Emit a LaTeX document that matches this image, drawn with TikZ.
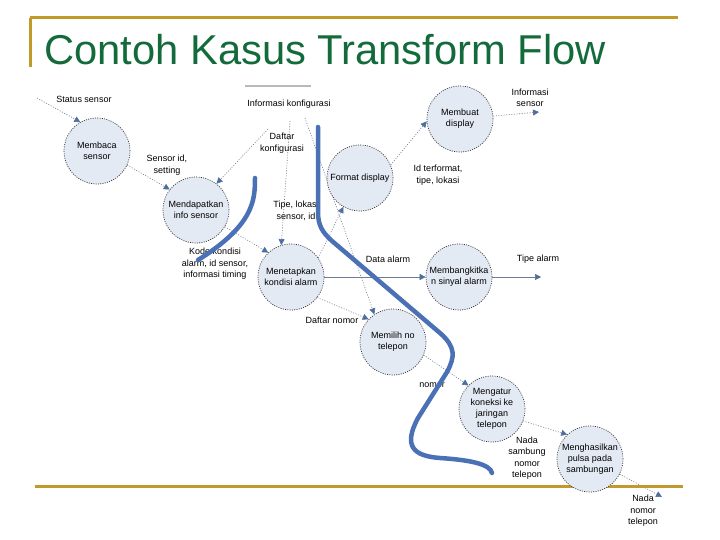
\documentclass[tikz,border=0pt]{standalone}
\usepackage{fontspec}
\setmainfont{Liberation Sans}
\usetikzlibrary{arrows.meta,backgrounds}
\definecolor{gold}{HTML}{C19A2C}
\definecolor{titlegreen}{HTML}{136B3C}
\definecolor{procfill}{HTML}{E4EAF4}
\definecolor{procborder}{HTML}{333333}
\definecolor{flowgray}{HTML}{6F7C92}
\definecolor{tipblue}{HTML}{4F6E9F}
\definecolor{curveblue}{HTML}{4A70B5}
\tikzset{
  proc/.style={circle, draw=procborder, fill=procfill, line width=0.7pt,
    dash pattern=on 1pt off 1.3pt, minimum size=66pt, inner sep=0pt,
    align=center, font=\fontsize{9}{11}\selectfont},
  lbl/.style={align=center, inner sep=0pt, font=\fontsize{9}{11.5}\selectfont},
  flow/.style={draw=flowgray, line width=0.6pt, dash pattern=on 1pt off 1.6pt,
    -{Triangle[length=6pt,width=6pt,color=tipblue]}},
  solidflow/.style={draw=flowgray, line width=0.6pt,
    -{Triangle[length=6pt,width=6pt,color=tipblue]}},
  goldline/.style={draw=gold, line width=3pt},
  bigcurve/.style={draw=curveblue, line width=4.5pt, line cap=round}
}
\begin{document}
\begin{tikzpicture}[x=1pt,y=-1pt]
\useasboundingbox (0,0) rectangle (720,540);
% frame lines
\draw[goldline] (30,18) -- (678,18);
\draw[goldline] (30,18) -- (30,67);
\draw[goldline] (35,486) -- (683,486);
% title
\node[anchor=base west, inner sep=0pt, text=titlegreen,
  font=\fontsize{41.7}{48}\selectfont] (title) at (44,65) {Contoh Kasus Transform Flow};
% processes
\node[proc] (mb) at (97,151) {Membaca\\sensor};
\node[proc] (md) at (196,210) {Mendapatkan\\info sensor};
\node[proc] (fd) at (360,178) {Format display};
\node[proc] (mu) at (460,119) {Membuat\\display};
\node[proc] (mk) at (291,277) {Menetapkan\\kondisi alarm};
\node[proc] (ms) at (459,277) {Membangkitka\\n sinyal alarm};
\node[proc] (mn) at (393,342) {Memilih no\\telepon};
\node[proc] (mj) at (492,409) {Mengatur\\koneksi ke\\jaringan\\telepon};
\node[proc] (mp) at (590,459) {Menghasilkan\\pulsa pada\\sambungan};
% labels
\node[lbl] (l1) at (84,99) {Status sensor};
\node[lbl] (l2) at (289,104) {Informasi konfigurasi};
\node[lbl] (l3) at (282,143) {Daftar\\konfigurasi};
\node[lbl] (l4) at (167,165) {Sensor id,\\setting};
\node[lbl] (l5) at (296,211) {Tipe, lokasi\\sensor, id};
\node[lbl] (l6) at (438,175) {Id terformat,\\tipe, lokasi};
\node[lbl] (l7) at (530,98) {Informasi\\sensor};
\node[lbl] (l8) at (215,264) {Kode kondisi\\alarm, id sensor,\\informasi timing};
\node[lbl] (l9) at (388,259) {Data alarm};
\node[lbl] (l10) at (538,259) {Tipe alarm};
\node[lbl] (l11) at (332,320) {Daftar nomor};
\node[lbl] (l12) at (432,385) {nomor};
\node[lbl] (l13) at (527,458) {Nada\\sambung\\nomor\\telepon};
\node[lbl] (l14) at (643,511) {Nada\\nomor\\telepon};
% free ends
\coordinate (s0) at (37,98);
\coordinate (c3) at (268,129);
\coordinate (c4) at (290,121);
\coordinate (c5) at (305,118);
\coordinate (c9) at (539,112);
\coordinate (c11) at (541,277);
\coordinate (c15) at (662,497);
\coordinate (st1) at (245,86);
\coordinate (st2) at (311,86);
\begin{scope}[on background layer]
\fill[white] (0,0) rectangle (720,540);
\draw[draw=gray!55, line width=1.2pt] (st1) -- (st2);
\draw[flow] (s0) -- (mb.120);
\draw[flow] (mb.-25) -- (md.142);
\draw[flow] (c3) -- (md.52);
\draw[flow] (c4) -- (mk.107);
\draw[flow] (c5) -- (mn.124);
\draw[flow] (md.-30) -- (mk.133);
\draw[flow] (mk.35) -- (fd.240);
\draw[flow] (fd.23) -- (mu.184);
\draw[flow] (mu.5) -- (c9);
\draw[solidflow] (mk.east) -- (ms.west);
\draw[solidflow] (ms.east) -- (c11);
\draw[flow] (mk.-38) -- (mn.137);
\draw[flow] (mn.-23) -- (mj.135);
\draw[flow] (mj.-21) -- (mp.133);
\draw[flow] (mp.-27) -- (c15);
\end{scope}
% thick blue boundary curves
\draw[bigcurve] (255,178) .. controls (255,200) and (254,225) .. (198,260);
\draw[bigcurve] (318,127) -- (318,212) .. controls (318,225) and (322,232) .. (332,241)
  -- (440,333) .. controls (456,347) and (455,357) .. (447,372)
  -- (418,418) .. controls (403,446) and (413,456) .. (440,458)
  .. controls (470,460) and (490,464) .. (492,473);
\end{tikzpicture}
\end{document}
